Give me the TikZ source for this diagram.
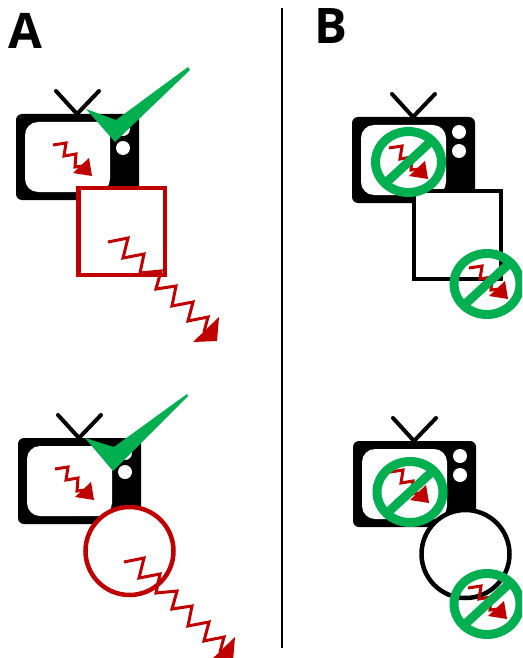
\documentclass[tikz,border=0pt]{standalone}
\usepackage{fontspec}
\setmainfont{Open Sans}
\definecolor{sigred}{HTML}{C00000}
\definecolor{okgreen}{HTML}{00B050}
\tikzset{
  x=1pt,y=-1pt,
  letter/.style={inner sep=0pt,font=\fontsize{49}{49}\selectfont\bfseries},
  antenna/.style={line width=4pt,line cap=round,black},
  frame/.style={line width=4.5pt,fill=white},
  zigline/.style={sigred,line width=3pt,miter limit=10},
  zighead/.style={fill=sigred,draw=none},
  tick/.style={fill=okgreen,draw=none},
  banring/.style={okgreen,line width=9pt},
  pics/tvset/.style={code={
    \draw[antenna] (40,-23) -- (61,0) -- (83,-23);
    \fill[black,rounded corners=6pt] (0,0) rectangle (123,86);
    \fill[white,rounded corners=13pt] (9,8) rectangle (94,78);
    \fill[white] (107,15) circle[radius=7];
    \fill[white] (107,34) circle[radius=7];
  }},
  pics/smallzig/.style={code={
    \draw[zigline] (37,31) -- (50,29) -- (48,42) -- (60,40) -- (59,53) -- (67,52);
    \fill[zighead] (76,62) -- (57,59) -- (73,44) -- cycle;
  }},
  pics/longzig/.style={code={
    \draw[zigline] (0,0) -- (20,-4) -- (15,16) -- (36,12) -- (32,31) -- (53,29) -- (48,47) -- (68,44) -- (64,64) -- (85,60) -- (80,79) -- (100,75) -- (96,90);
    \fill[zighead] (111,75) -- (109,99) -- (85,100) -- cycle;
  }},
  pics/banmark/.style={code={
    \draw[banring] (0,0) ellipse[x radius=33,y radius=30.5];
    \draw[banring] (-25,23) -- (25,-23);
  }}
}
\begin{document}
\begin{tikzpicture}
\useasboundingbox (0,0) rectangle (522,658);
\clip (0,0) rectangle (522,658);
\fill[white] (0,0) rectangle (522,658);

\node[letter,anchor=center] (labelA) at (25.5,31) {A};
\node[letter,anchor=center] (labelB) at (331,26.5) {B};
\coordinate (divtop) at (282,8);
\coordinate (divbot) at (282,648);
\draw[black,line width=2pt] (divtop) -- (divbot);

% A, top
\pic at (16,114) {tvset};
\pic at (16,114) {smallzig};
\draw[frame,draw=sigred] (78.5,188) rectangle (165,275);
\pic at (108,242) {longzig};
\fill[tick] (86,109) -- (116,120) -- (188,67) -- (190,70) -- (115,142) -- cycle;

% A, bottom
\pic at (18,438) {tvset};
\pic at (18,438) {smallzig};
\draw[frame,draw=sigred] (129.5,551) circle[radius=44];
\pic at (124,562) {longzig};
\fill[tick] (85,438) -- (114,447) -- (187,394) -- (188,396) -- (113,471) -- cycle;

% B, top
\pic at (352,117) {tvset};
\pic at (352,117) {smallzig};
\draw[frame,draw=black] (414,191) rectangle (501,279);
\pic at (432,237) {smallzig};
\pic at (408.5,162) {banmark};
\pic at (487,284) {banmark};

% B, bottom
\pic at (353,441) {tvset};
\pic at (353,441) {smallzig};
\draw[frame,draw=black] (465.5,554) circle[radius=44];
\pic at (431,557) {smallzig};
\pic at (410,492) {banmark};
\pic at (487,604) {banmark};
\end{tikzpicture}
\end{document}
